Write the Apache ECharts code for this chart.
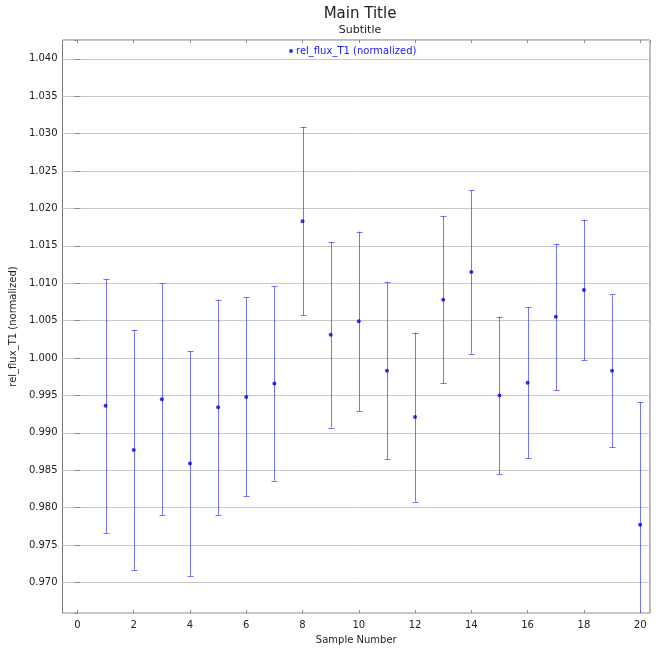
<!DOCTYPE html>
<html>
<head>
<meta charset="utf-8">
<script src="https://cdn.jsdelivr.net/npm/echarts@6/dist/echarts.min.js"></script>
<style>
  html, body { margin: 0; padding: 0; background: #fff; }
  #main { width: 664px; height: 650px; }
</style>
</head>
<body>
<div id="main"></div>
<script>
// 資料
const sampleNumbers = [1, 2, 3, 4, 5, 6, 7, 8, 9, 10, 11, 12, 13, 14, 15, 16, 17, 18, 19, 20];
const fluxValues = [0.9936, 0.9877, 0.9945, 0.9859, 0.9934, 0.9948, 0.9966, 1.0183, 1.0031, 1.0049,
                    0.9983, 0.9921, 1.0078, 1.0115, 0.9950, 0.9967, 1.0055, 1.0091, 0.9983, 0.9777];
const fluxErrors = [0.0170, 0.0160, 0.0155, 0.0150, 0.0144, 0.0133, 0.0130, 0.0126, 0.0124, 0.0120,
                    0.0118, 0.0113, 0.0112, 0.0109, 0.0105, 0.0101, 0.0098, 0.0094, 0.0102, 0.0164];
const seriesName = 'rel_flux_T1 (normalized)';

const font = 'DejaVu Sans';
const chart = echarts.init(document.getElementById('main'));

const pointData = sampleNumbers.map((n, i) => [n, fluxValues[i]]);
const errData = sampleNumbers.map((n, i) => [n, fluxValues[i] - fluxErrors[i], fluxValues[i] + fluxErrors[i]]);

// 誤差線
function renderErrorBar(params, api) {
  const cs = params.coordSys;
  const x = api.value(0);
  const lo = api.coord([x, api.value(1)]);
  const hi = api.coord([x, api.value(2)]);
  const px = Math.round(lo[0]) + 0.5; // 對齊像素，避免線條變灰
  const yTop = Math.max(hi[1], cs.y);
  const yBot = Math.min(lo[1], cs.y + cs.height);
  const cap = 3;
  const style = { stroke: 'rgba(70,70,255,0.75)', lineWidth: 1 };
  const children = [
    { type: 'line', shape: { x1: px, y1: yTop, x2: px, y2: yBot }, style: style }
  ];
  if (hi[1] >= cs.y) {
    const y = Math.round(hi[1]) + 0.5;
    children.push({ type: 'line', shape: { x1: px - cap, y1: y, x2: px + cap, y2: y }, style: style });
  }
  if (lo[1] <= cs.y + cs.height) {
    const y = Math.round(lo[1]) + 0.5;
    children.push({ type: 'line', shape: { x1: px - cap, y1: y, x2: px + cap, y2: y }, style: style });
  }
  return { type: 'group', children: children };
}

const xBase = {
  type: 'value',
  min: -0.53,
  max: 20.35,
  minInterval: 2,
  maxInterval: 2,
  axisLine: { show: false },
  axisTick: { show: true, inside: true, length: 3, lineStyle: { color: '#888' } },
  splitLine: { show: false }
};
const yBase = {
  type: 'value',
  min: 0.96589,
  max: 1.04252,
  minInterval: 0.005,
  maxInterval: 0.005,
  axisLine: { show: false },
  axisTick: { show: true, inside: true, length: 3, lineStyle: { color: '#888' } }
};

const option = {
  backgroundColor: '#fff',
  animation: false,
  textStyle: { fontFamily: font },
  title: {
    text: 'Main Title',
    subtext: 'Subtitle',
    left: 355,
    textAlign: 'center',
    top: 2,
    itemGap: 3,
    textStyle: { fontFamily: font, fontSize: 15, fontWeight: 'normal', color: '#222' },
    subtextStyle: { fontFamily: font, fontSize: 11, color: '#222' }
  },
  legend: {
    top: 41,
    left: 284,
    data: [seriesName],
    icon: 'circle',
    itemWidth: 4,
    itemHeight: 4,
    itemGap: 4,
    textStyle: { fontFamily: font, fontSize: 10, color: '#1a1aff', padding: [0, 0, 0, -2] }
  },
  grid: {
    left: 61,
    right: 14,
    top: 40,
    bottom: 32,
    show: true,
    borderColor: '#777',
    borderWidth: 1,
    backgroundColor: '#fff'
  },
  xAxis: [
    Object.assign({}, xBase, {
      position: 'bottom',
      name: 'Sample Number',
      nameLocation: 'middle',
      nameGap: 19,
      nameTextStyle: { fontFamily: font, fontSize: 10, color: '#222' },
      axisLabel: {
        showMinLabel: false,
        showMaxLabel: false,
        margin: 7,
        fontSize: 10,
        color: '#222',
        fontFamily: font
      }
    }),
    Object.assign({}, xBase, { position: 'top', axisLabel: { show: false } })
  ],
  yAxis: [
    Object.assign({}, yBase, {
      position: 'left',
      name: seriesName,
      nameLocation: 'middle',
      nameGap: 28,
      nameTextStyle: { fontFamily: font, fontSize: 10, color: '#222' },
      axisLabel: {
        showMinLabel: false,
        showMaxLabel: false,
        margin: 5,
        fontSize: 10,
        color: '#222',
        fontFamily: font,
        formatter: v => v.toFixed(3)
      },
      splitLine: { show: true, lineStyle: { color: '#c8c8c8', width: 1 } }
    }),
    Object.assign({}, yBase, { position: 'right', axisLabel: { show: false }, splitLine: { show: false } })
  ],
  series: [
    {
      name: 'errorbar',
      type: 'custom',
      renderItem: renderErrorBar,
      encode: { x: 0, y: [1, 2] },
      data: errData,
      z: 2,
      silent: true
    },
    {
      name: seriesName,
      type: 'scatter',
      data: pointData,
      symbol: 'circle',
      symbolSize: 4,
      itemStyle: { color: '#0000ee' },
      z: 3
    }
  ]
};

chart.setOption(option);
</script>
</body>
</html>
